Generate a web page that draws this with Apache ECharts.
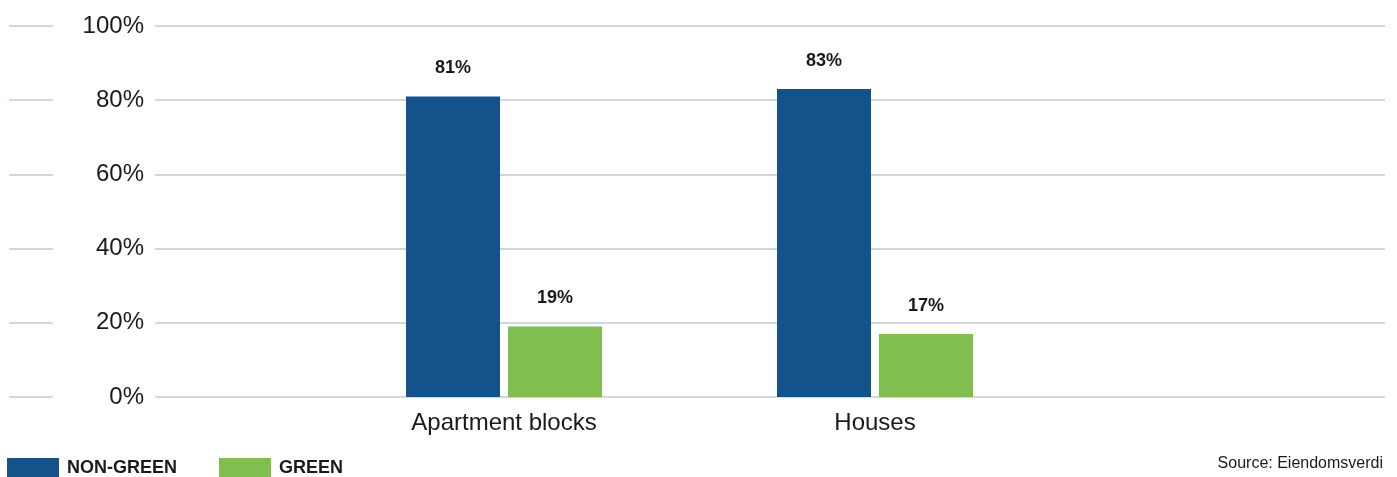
<!DOCTYPE html>
<html>
<head>
<meta charset="utf-8">
<script src="https://cdn.jsdelivr.net/npm/echarts@6/dist/echarts.min.js"></script>
<style>
  html, body { margin: 0; padding: 0; background: #fff; }
  #chart { width: 1397px; height: 477px; }
</style>
</head>
<body>
<div id="chart"></div>
<script>
// Share of dwellings by energy classification
const categories = ['Apartment blocks', 'Houses'];
const nonGreen = [81, 83];
const green = [19, 17];
const seriesNames = ['NON-GREEN', 'GREEN'];
const sourceText = 'Source: Eiendomsverdi';

const FONT = "'Liberation Sans', Arial, Helvetica, sans-serif";
const TEXT = '#1a1a1a';
const GRID_LINE = '#d0d7df';
const BLUE = '#13528a';
const GREEN = '#81be50';

const chart = echarts.init(document.getElementById('chart'), null, { renderer: 'canvas' });

const yBase = { type: 'value', min: 0, max: 100, interval: 20 };

const barLabel = {
  show: true,
  position: 'top',
  distance: 19,
  formatter: '{c}%',
  color: TEXT,
  fontFamily: FONT,
  fontWeight: 'bold',
  fontSize: 18
};

chart.setOption({
  animation: false,
  textStyle: { fontFamily: FONT },
  grid: [
    // short rule segments at the far left
    { left: 9, width: 44, top: 26, height: 371 },
    // main plot rules with the percentage labels
    { left: 155, right: 12, top: 26, height: 371 },
    // bars
    { left: 318.5, width: 742, top: 26, height: 371 }
  ],
  xAxis: [
    { gridIndex: 0, type: 'value', show: false },
    { gridIndex: 1, type: 'value', show: false },
    {
      gridIndex: 2, type: 'category', data: categories,
      axisLine: { show: false }, axisTick: { show: false },
      axisLabel: { color: TEXT, fontSize: 24, fontFamily: FONT, margin: 14 }
    }
  ],
  yAxis: [
    Object.assign({ gridIndex: 0 }, yBase, {
      axisLine: { show: false }, axisTick: { show: false }, axisLabel: { show: false },
      splitLine: { show: true, lineStyle: { color: GRID_LINE, width: 2 } }
    }),
    Object.assign({ gridIndex: 1 }, yBase, {
      axisLine: { show: false }, axisTick: { show: false },
      axisLabel: { color: TEXT, fontSize: 24, fontFamily: FONT, margin: 11, formatter: '{value}%' },
      splitLine: { show: true, lineStyle: { color: GRID_LINE, width: 2 } }
    }),
    Object.assign({ gridIndex: 2 }, yBase, { show: false, splitLine: { show: false } })
  ],
  legend: {
    left: 7,
    top: 458,
    padding: 0,
    itemWidth: 52,
    itemHeight: 20,
    itemGap: 42,
    icon: 'rect',
    data: seriesNames,
    textStyle: { color: TEXT, fontFamily: FONT, fontWeight: 'bold', fontSize: 18, padding: [0, 0, 0, 3] }
  },
  graphic: [{
    type: 'text',
    right: 14,
    top: 456,
    style: { text: sourceText, fill: TEXT, font: '16px ' + FONT }
  }],
  series: [
    {
      name: seriesNames[0], type: 'bar', xAxisIndex: 2, yAxisIndex: 2,
      data: nonGreen, barWidth: 94, barGap: '8.5%',
      itemStyle: { color: BLUE }, label: barLabel, z: 5
    },
    {
      name: seriesNames[1], type: 'bar', xAxisIndex: 2, yAxisIndex: 2,
      data: green, barWidth: 94, barGap: '8.5%',
      itemStyle: { color: GREEN }, label: barLabel, z: 5
    }
  ]
});
</script>
</body>
</html>
